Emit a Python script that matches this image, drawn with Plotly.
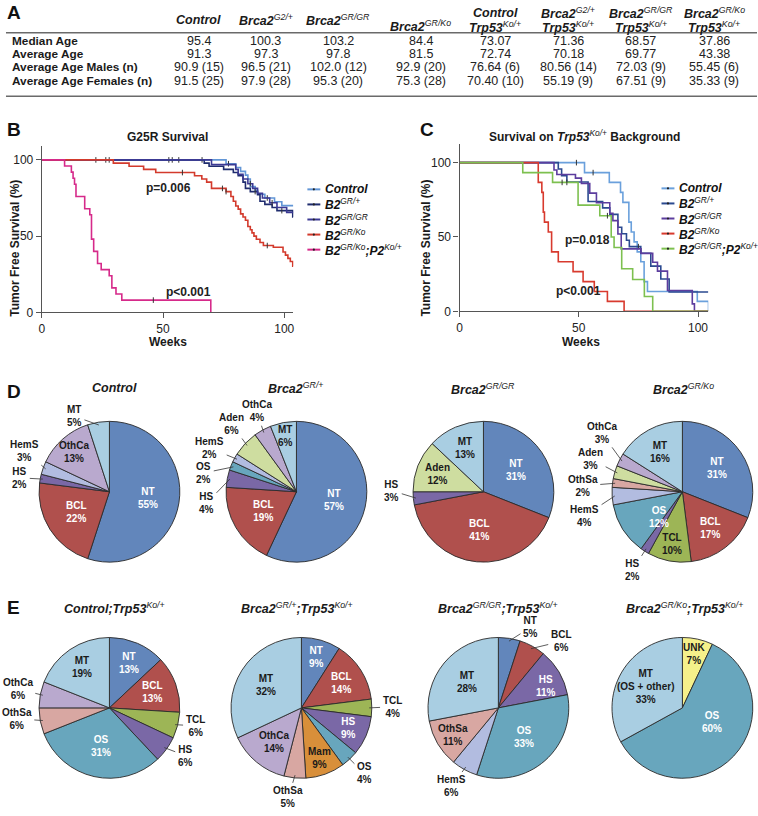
import math
import plotly.graph_objects as go

W, H = 758, 816
FONT = "Liberation Sans, Arial, Helvetica, sans-serif"

def px(x):
    return x / W

def py(y):
    return 1 - y / H

# ---------------- Panel A : table ----------------
table_header_lines = [
    ["<b><i>Control</i></b>"],
    ["<b><i>Brca2</i></b><i><sup>G2/+</sup></i>"],
    ["<b><i>Brca2</i></b><i><sup>GR/GR</sup></i>"],
    ["<b><i>Brca2</i></b><i><sup>GR/Ko</sup></i>"],
    ["<b><i>Control</i></b>", "<b><i>Trp53</i></b><i><sup>Ko/+</sup></i>"],
    ["<b><i>Brca2</i></b><i><sup>G2/+</sup></i>", "<b><i>Trp53</i></b><i><sup>Ko/+</sup></i>"],
    ["<b><i>Brca2</i></b><i><sup>GR/GR</sup></i>", "<b><i>Trp53</i></b><i><sup>Ko/+</sup></i>"],
    ["<b><i>Brca2</i></b><i><sup>GR/Ko</sup></i>", "<b><i>Trp53</i></b><i><sup>Ko/+</sup></i>"],
]
table_row_labels = ["Median Age", "Average Age", "Average Age Males (n)", "Average Age Females (n)"]
table_median = ["95.4", "100.3", "103.2", "84.4", "73.07", "71.36", "68.57", "37.86"]
table_average = ["91.3", "97.3", "97.8", "81.5", "72.74", "70.18", "69.77", "43.38"]
table_males = ["90.9 (15)", "96.5 (21)", "102.0 (12)", "92.9 (20)", "76.64 (6)", "80.56 (14)", "72.03 (9)", "55.45 (6)"]
table_females = ["91.5 (25)", "97.9 (28)", "95.3 (20)", "75.3 (28)", "70.40 (10)", "55.19 (9)", "67.51 (9)", "35.33 (9)"]

# ---------------- Panel B : G25R survival (weeks, % tumor free) ----------------
b_control_t = [76, 80, 82, 84, 85, 86, 88, 89, 92, 96, 99]
b_control_s = [97.5, 95, 92.5, 90, 87.5, 82.5, 80, 77.5, 75, 72.5, 70]
b_control_cens = [22.3, 26.4, 27.8, 52.4, 53.8, 56.5, 66.1, 77, 93]
b_grp_t = [67, 69, 75, 79, 81, 83, 84, 86, 89, 90, 92, 95, 97, 103.5]
b_grp_s = [97.9, 95.8, 93.8, 91.7, 89.6, 85.4, 81.3, 79.2, 77.1, 72.9, 70.8, 68.8, 66.7, 62.5]
b_grp_cens = [88, 99]
b_grgr_t = [70, 80, 81, 83, 85, 87, 89, 91, 94, 97, 101]
b_grgr_s = [96.9, 93.8, 90.6, 87.5, 84.4, 81.3, 78.1, 75, 71.9, 68.8, 65.6]
b_grgr_cens = [86, 95]
b_grko_t = [29.5, 36, 42, 47, 63, 66, 68, 70, 76, 78, 79, 80, 81, 82, 83, 84, 85, 86, 86.7,
            87.5, 88.5, 90, 91.4, 95.5, 99.5, 100.5, 101.5, 102.5, 103.5]
b_grko_s = [97.9, 95.8, 93.8, 91.7, 89.6, 87.5, 85.4, 81.3, 79.2, 76.0, 72.9, 69.8, 67.7, 64.6, 62.5,
            60.4, 56.3, 54.2, 52.1, 50.0, 47.9, 45.8, 43.8, 42.7, 39.6, 37.5, 35.4, 33.3, 30.2]
b_grko_cens = [58, 74.5, 76, 93]
b_p2_t = [9.4, 12.2, 12.9, 13.5, 14.1, 17.7, 19.8, 20.5, 21.4, 23, 24.5, 27.8, 28.9, 30.6, 33, 69.7]
b_p2_s = [96, 92, 88, 84, 76, 68, 64, 48, 40, 32, 28, 24, 16, 12, 8, 0]
b_p2_cens = [46]

# ---------------- Panel C : survival on Trp53 Ko/+ background ----------------
c_control_t = [52.4, 62.8, 67.5, 68.5, 71, 72, 73.2, 74.5, 76, 77.4, 78.8, 99.7, 104.4]
c_control_s = [93.3, 86.7, 80, 73.3, 60, 53.3, 46.7, 40, 33.3, 20, 13.3, 6.7, 0]
c_control_cens = [49, 56]
c_grp_t = [41.4, 42.8, 45, 53.9, 60, 63, 66.4, 68, 70, 71.2, 76, 80.2, 84.4, 87.9]
c_grp_s = [95.7, 91.3, 87, 73.9, 69.6, 65.2, 56.5, 52.2, 47.8, 43.5, 39.1, 30.4, 21.7, 13]
c_grp_cens = [75]
c_grgr_t = [39.6, 40.8, 48.6, 51.1, 54.6, 57.4, 63, 64.3, 66.4, 67.8, 76.1, 81, 83, 87.2, 97.6, 98.5]
c_grgr_s = [95, 92, 89.6, 86, 79.5, 73, 66, 61, 52, 42, 39, 33, 27, 14, 5, 0]
c_grko_t = [33, 34.5, 35.1, 35.6, 37.2, 38.6, 41.4, 47.6, 51.8, 56.5, 62, 69]
c_grko_s = [86.7, 80, 66.7, 60, 53.3, 40, 33.3, 26.7, 20, 13.3, 6.7, 0]
c_p2_t = [26.5, 39, 49.7, 58.8, 63.6, 64.8, 68, 72.6, 77.5, 81]
c_p2_s = [93.3, 86.7, 71.4, 64.3, 50, 42.9, 28.6, 21.4, 10, 0]
c_p2_cens = [43, 45, 62]

# ---------------- Panels D / E : tumour spectra (%) ----------------
d_control_labels = ["NT", "BCL", "HS", "HemS", "OthCa", "MT"]
d_control_values = [55, 22, 2, 3, 13, 5]
d_grp_labels = ["NT", "BCL", "HS", "OS", "HemS", "Aden", "OthCa", "MT"]
d_grp_values = [57, 19, 4, 2, 2, 6, 4, 6]
d_grgr_labels = ["NT", "BCL", "HS", "Aden", "MT"]
d_grgr_values = [31, 41, 3, 12, 13]
d_grko_labels = ["NT", "BCL", "TCL", "HS", "OS", "HemS", "OthSa", "Aden", "OthCa", "MT"]
d_grko_values = [31, 17, 10, 2, 12, 4, 2, 3, 3, 16]
e_control_labels = ["NT", "BCL", "TCL", "HS", "OS", "OthSa", "OthCa", "MT"]
e_control_values = [13, 13, 6, 6, 31, 6, 6, 19]
e_grp_labels = ["NT", "BCL", "TCL", "HS", "OS", "Mam", "OthSa", "OthCa", "MT"]
e_grp_values = [9, 14, 4, 9, 4, 9, 5, 14, 32]
e_grgr_labels = ["NT", "BCL", "HS", "OS", "HemS", "OthSa", "MT"]
e_grgr_values = [5, 6, 11, 33, 6, 11, 28]
e_grko_labels = ["UNK", "OS", "MT (OS + other)"]
e_grko_values = [7, 60, 33]

pie_titles = [
    "<b><i>Control</i></b>",
    "<b><i>Brca2</i></b><i><sup>GR/+</sup></i>",
    "<b><i>Brca2</i></b><i><sup>GR/GR</sup></i>",
    "<b><i>Brca2</i></b><i><sup>GR/Ko</sup></i>",
    "<b><i>Control;Trp53</i></b><i><sup>Ko/+</sup></i>",
    "<b><i>Brca2</i></b><i><sup>GR/+</sup></i><b><i>;Trp53</i></b><i><sup>Ko/+</sup></i>",
    "<b><i>Brca2</i></b><i><sup>GR/GR</sup></i><b><i>;Trp53</i></b><i><sup>Ko/+</sup></i>",
    "<b><i>Brca2</i></b><i><sup>GR/Ko</sup></i><b><i>;Trp53</i></b><i><sup>Ko/+</sup></i>",
]

# ---------------- styles ----------------
cat_colors = {
    "NT": "#6286BB", "BCL": "#B0504D", "HS": "#7A68A6", "HemS": "#B2BCE0",
    "OthCa": "#B9A9CE", "MT": "#A9CEE2", "Aden": "#CEDDA0", "OS": "#68A6BD",
    "OthSa": "#D8A7A2", "TCL": "#9DB556", "Mam": "#D88F3A", "UNK": "#F5F08A",
}
white_text = {"NT", "BCL", "OS", "HS"}

fig = go.Figure()
ann = []
shapes = []

def text_ann(text, x, y, size=12, color="#1a1a1a", xanchor="center", yanchor="middle", **kw):
    d = dict(text=text, x=px(x), y=py(y), xref="paper", yref="paper", showarrow=False,
             xanchor=xanchor, yanchor=yanchor, font=dict(family=FONT, size=size, color=color))
    d.update(kw)
    ann.append(d)

# ---- panel letters
for letter, (lx, ly) in zip("ABCDE", [(2, 13), (2, 131), (417, 131), (2, 395), (2, 613)]):
    text_ann(f"<b>{letter}</b>", lx, ly, size=19, color="#111", xanchor="left")

# ---- table
col_x = [197, 264, 337, 420, 495, 568, 641, 715]
single_y = [20, 20, 20, 26]
for i, lines in enumerate(table_header_lines):
    if len(lines) == 1:
        text_ann(lines[0], col_x[i], single_y[i], size=12.5)
    else:
        text_ann(lines[0], col_x[i], 13, size=12.5)
        text_ann(lines[1], col_x[i], 27, size=12.5)
row_y = [41, 54.5, 68, 81.5]
for r, (lab, vals) in enumerate(zip(table_row_labels,
                                   [table_median, table_average, table_males, table_females])):
    text_ann(f"<b>{lab}</b>", 7, row_y[r], size=11.8, xanchor="left")
    for c, v in enumerate(vals):
        text_ann(v, col_x[c], row_y[r], size=12.5, color="#222")
for yy in (33, 97):
    shapes.append(dict(type="line", xref="paper", yref="paper", x0=px(3), x1=px(758),
                       y0=py(yy), y1=py(yy), line=dict(color="#6a6a6a", width=1.5)))

# ---- KM curves
def km_xy(times, surv, t_end):
    x = [0] + list(times)
    y = [100] + list(surv)
    if t_end > x[-1]:
        x.append(t_end)
        y.append(y[-1])
    return x, y

def surv_at(t, times, surv):
    s = 100
    for tt, ss in zip(times, surv):
        if tt <= t:
            s = ss
    return s

def add_km(times, surv, t_end, color, cens, xa, ya):
    x, y = km_xy(times, surv, t_end)
    fig.add_trace(go.Scatter(x=x, y=y, mode="lines", line=dict(color=color, width=1.6, shape="hv"),
                             xaxis=xa, yaxis=ya, showlegend=False, hoverinfo="skip"))
    if cens:
        fig.add_trace(go.Scatter(x=cens, y=[surv_at(t, times, surv) for t in cens], mode="markers",
                                 marker=dict(symbol="line-ns", size=4, line=dict(color="#333", width=1)),
                                 xaxis=xa, yaxis=ya, showlegend=False, hoverinfo="skip"))

leg_control = "<b><i>Control</i></b>"
leg_grp = "<b><i>B2</i></b><i><sup>GR/+</sup></i>"
leg_grgr = "<b><i>B2</i></b><i><sup>GR/GR</sup></i>"
leg_grko = "<b><i>B2</i></b><i><sup>GR/Ko</sup></i>"
leg_b_p2 = "<b><i>B2</i></b><i><sup>GR/Ko</sup></i><b><i>;P2</i></b><i><sup>Ko/+</sup></i>"
leg_c_p2 = "<b><i>B2</i></b><i><sup>GR/GR</sup></i><b><i>;P2</i></b><i><sup>Ko/+</sup></i>"

b_colors = ["#6296D6", "#1F2C6E", "#3C3A94", "#D33A2C", "#D62A8A"]
c_colors = ["#6AA0DC", "#2B4A90", "#5C3D9E", "#D83A2E", "#7DC04F"]
b_names = [leg_control, leg_grp, leg_grgr, leg_grko, leg_b_p2]
c_names = [leg_control, leg_grp, leg_grgr, leg_grko, leg_c_p2]

B_END = 103.7
add_km(b_control_t, b_control_s, B_END, b_colors[0], b_control_cens, "x", "y")
add_km(b_grp_t, b_grp_s, B_END, b_colors[1], b_grp_cens, "x", "y")
add_km(b_grgr_t, b_grgr_s, B_END, b_colors[2], b_grgr_cens, "x", "y")
add_km(b_grko_t, b_grko_s, B_END, b_colors[3], b_grko_cens, "x", "y")
add_km(b_p2_t, b_p2_s, b_p2_t[-1], b_colors[4], b_p2_cens, "x", "y")

C_END = 104.4
add_km(c_control_t, c_control_s, C_END, c_colors[0], c_control_cens, "x2", "y2")
add_km(c_grp_t, c_grp_s, C_END, c_colors[1], c_grp_cens, "x2", "y2")
add_km(c_grgr_t, c_grgr_s, C_END, c_colors[2], None, "x2", "y2")
add_km(c_grko_t, c_grko_s, C_END, c_colors[3], None, "x2", "y2")
add_km(c_p2_t, c_p2_s, C_END, c_colors[4], c_p2_cens, "x2", "y2")

# legends (line swatch + label)
def legend_block(names, colors, x_line0, y_first, step=15.2):
    for i, (nm, col) in enumerate(zip(names, colors)):
        yy = y_first + i * step
        shapes.append(dict(type="line", xref="paper", yref="paper", x0=px(x_line0), x1=px(x_line0 + 13),
                           y0=py(yy), y1=py(yy), line=dict(color=col, width=2)))
        shapes.append(dict(type="circle", xref="paper", yref="paper",
                           x0=px(x_line0 + 5.4), x1=px(x_line0 + 7.6), y0=py(yy + 1.1), y1=py(yy - 1.1),
                           fillcolor="#222", line=dict(width=0)))
        text_ann(nm, x_line0 + 16, yy, size=12, color="#111", xanchor="left")

legend_block(b_names, b_colors, 306, 191)
legend_block(c_names, c_colors, 662, 190)

axis_style = dict(showline=True, linecolor="#555", linewidth=1.3, ticks="outside", ticklen=5,
                  tickwidth=1, tickcolor="#555", tickvals=[0, 50, 100], showgrid=False,
                  zeroline=False, tickfont=dict(family=FONT, size=12, color="#222"), fixedrange=True)

# p-values
for txt, xx, yy, xr, yr in [("p=0.006", 52.2, 81.8, "x", "y"), ("p<0.001", 60.4, 13, "x", "y"),
                            ("p=0.018", 53.75, 48.2, "x2", "y2"), ("p<0.001", 50, 13.5, "x2", "y2")]:
    ann.append(dict(text=f"<b>{txt}</b>", x=xx, y=yy, xref=xr, yref=yr, showarrow=False,
                    font=dict(family=FONT, size=12, color="#222")))

text_ann("<b>G25R Survival</b>", 165, 138, size=12)
text_ann("<b>Survival on <i>Trp53</i></b><i><sup>Ko/+</sup></i><b> Background</b>", 585, 137, size=12)
text_ann("<b>Weeks</b>", 166, 345, size=12)
text_ann("<b>Weeks</b>", 581, 345, size=12)
text_ann("<b>Tumor Free Survival (%)</b>", 12, 250, size=12, textangle=-90)
text_ann("<b>Tumor Free Survival (%)</b>", 425, 250, size=12, textangle=-90)

# ---- pies
R = 71
pies = [
    (d_control_labels, d_control_values, 107, 496, 112, 391),
    (d_grp_labels, d_grp_values, 295, 496, 294, 391),
    (d_grgr_labels, d_grgr_values, 483, 496, 483, 392),
    (d_grko_labels, d_grko_values, 683, 496, 684, 392),
    (e_control_labels, e_control_values, 107, 714, 112, 613),
    (e_grp_labels, e_grp_values, 300, 714, 296, 613),
    (e_grgr_labels, e_grgr_values, 498, 714, 498, 613),
    (e_grko_labels, e_grko_values, 683, 714, 685, 613),
]
# label placement: ('in', radius fraction, angle shift) or ('out', dx, dy of text from pie centre)
label_place = {
    (0, "OthCa"): ("in", 0.75, 0), (0, "HS"): ("out", -90, -14), (0, "HemS"): ("out", -85, -41),
    (0, "MT"): ("out", -35, -76),
    (1, "MT"): ("in", 0.81, 0), (1, "HS"): ("out", -90, 11), (1, "OS"): ("out", -93, -19),
    (1, "HemS"): ("out", -87, -44), (1, "Aden"): ("out", -65, -68), (1, "OthCa"): ("out", -40, -81),
    (2, "Aden"): ("in", 0.7, 0), (2, "MT"): ("in", 0.67, 0), (2, "HS"): ("out", -92, -1),
    (3, "NT"): ("in", 0.6, 0), (3, "BCL"): ("in", 0.65, 0), (3, "TCL"): ("in", 0.75, 0),
    (3, "OS"): ("in", 0.48, -15), (3, "MT"): ("in", 0.65, 0), (3, "HS"): ("out", -50, 79),
    (3, "HemS"): ("out", -98, 24), (3, "OthSa"): ("out", -100, -6), (3, "Aden"): ("out", -92, -33),
    (3, "OthCa"): ("out", -81, -59),
    (4, "NT"): ("in", 0.7, 0), (4, "BCL"): ("in", 0.65, 0), (4, "MT"): ("in", 0.7, 0),
    (4, "TCL"): ("out", 86, 18), (4, "HS"): ("out", 76, 48), (4, "OthSa"): ("out", -93, 11),
    (4, "OthCa"): ("out", -92, -19),
    (5, "NT"): ("in", 0.75, 0), (5, "BCL"): ("in", 0.67, 0), (5, "HS"): ("in", 0.72, 0),
    (5, "Mam"): ("in", 0.76, 0), (5, "OthCa"): ("in", 0.62, 0), (5, "MT"): ("in", 0.6, 0),
    (5, "TCL"): ("out", 91, -1), (5, "OS"): ("out", 63, 66), (5, "OthSa"): ("out", -13, 90),
    (6, "HS"): ("in", 0.74, 6), (6, "OthSa"): ("in", 0.75, 0), (6, "MT"): ("in", 0.58, 0),
    (6, "NT"): ("out", 32, -81), (6, "BCL"): ("out", 63, -67), (6, "HemS"): ("out", -47, 79),
    (7, "UNK"): ("in", 0.78, 0), (7, "OS"): ("in", 0.47, -18), (7, "MT (OS + other)"): ("in", 0.6, 0),
}

for pi, (labels, values, cx, cy, tx, ty) in enumerate(pies):
    cols = [cat_colors[l.split()[0]] for l in labels]
    fig.add_trace(go.Pie(labels=labels, values=values, sort=False, direction="clockwise", rotation=0,
                         marker=dict(colors=cols, line=dict(color="#2a2a2a", width=0.9)),
                         textinfo="none", hoverinfo="label+value", showlegend=False,
                         domain=dict(x=[px(cx - R), px(cx + R)], y=[py(cy + R), py(cy - R)])))
    text_ann(pie_titles[pi], tx, ty, size=12.5)
    total = sum(values)
    cum = 0
    for lab, v in zip(labels, values):
        mid = 360.0 * (cum + v / 2.0) / total
        cum += v
        disp = lab.replace(" (", "<br>(")
        text = f"<b>{disp}<br>{v}%</b>"
        place = label_place.get((pi, lab), ("in", 0.55, 0))
        if place[0] == "in":
            a = math.radians(mid + place[2])
            lx = cx + place[1] * R * math.sin(a)
            ly = cy - place[1] * R * math.cos(a)
            col = "#ffffff" if lab in white_text else "#1a1a1a"
            text_ann(text, lx, ly, size=10, color=col)
        else:
            a = math.radians(mid)
            hx = cx + 0.96 * R * math.sin(a)
            hy = cy - 0.96 * R * math.cos(a)
            lx, ly = cx + place[1], cy + place[2]
            ann.append(dict(text=text, x=px(hx), y=py(hy), xref="paper", yref="paper",
                            showarrow=True, arrowhead=0, arrowwidth=0.8, arrowcolor="#333",
                            ax=lx - hx, ay=ly - hy, standoff=0, startstandoff=1,
                            font=dict(family=FONT, size=10, color="#1a1a1a")))

fig.update_layout(
    width=W, height=H, autosize=False,
    margin=dict(l=0, r=0, t=0, b=0),
    paper_bgcolor="white", plot_bgcolor="white",
    font=dict(family=FONT, size=12, color="#111"),
    showlegend=False,
    xaxis=dict(domain=[px(39), px(292)], range=[0, 103.8], anchor="y", **axis_style),
    yaxis=dict(domain=[py(315), py(147)], range=[0, 109.3], anchor="x", **axis_style),
    xaxis2=dict(domain=[px(459), px(709)], range=[0, 104.3], anchor="y2", **axis_style),
    yaxis2=dict(domain=[py(314), py(145)], range=[0, 112.7], anchor="x2", **axis_style),
    annotations=ann, shapes=shapes,
)

fig.write_html("out.html", config={"displayModeBar": False},
               post_script="document.body.style.margin='0';document.body.style.overflow='hidden';")
